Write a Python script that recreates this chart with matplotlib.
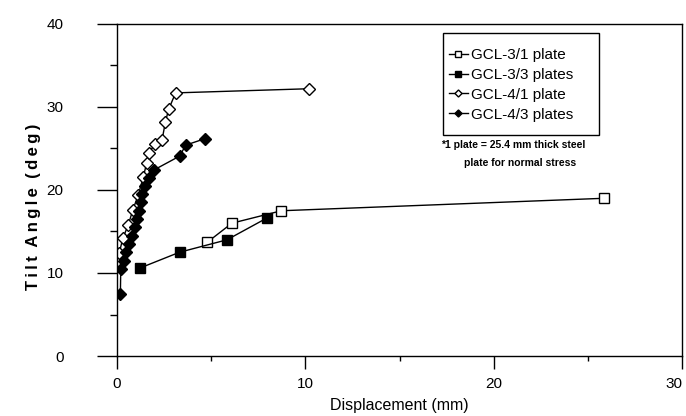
import numpy as np
import matplotlib.pyplot as plt
from matplotlib.patches import Rectangle

plt.rcParams['font.family'] = ['Liberation Sans', 'DejaVu Sans']

# GCL-3, 1 plate (open squares)
x_31 = [4.79, 6.10, 8.73, 25.84]
y_31 = [13.7, 16.0, 17.5, 19.0]
# GCL-3, 3 plates (filled squares)
x_33 = [1.22, 3.32, 5.84, 7.94]
y_33 = [10.6, 12.5, 14.0, 16.6]
# GCL-4, 1 plate (open diamonds)
x_41 = [0.12, 0.31, 0.60, 0.84, 1.13, 1.40, 1.57, 1.71, 2.00, 2.39, 2.57, 2.74, 3.11, 10.18]
y_41 = [12.4, 14.2, 15.8, 17.6, 19.4, 21.6, 23.2, 24.5, 25.5, 26.0, 28.2, 29.7, 31.7, 32.2]
# GCL-4, 3 plates (filled diamonds)
x_43 = [0.18, 0.20, 0.35, 0.50, 0.65, 0.80, 0.95, 1.05, 1.15, 1.25, 1.35, 1.50, 1.70, 1.95, 3.34, 3.64, 4.69]
y_43 = [7.5, 10.5, 11.5, 12.5, 13.5, 14.5, 15.5, 16.5, 17.5, 18.5, 19.5, 20.5, 21.5, 22.4, 24.1, 25.4, 26.2]

labels = ['GCL-3/1 plate', 'GCL-3/3 plates', 'GCL-4/1 plate', 'GCL-4/3 plates']
note = ['*1 plate = 25.4 mm thick steel', 'plate for normal stress']

W, H = 686, 416
fig = plt.figure(figsize=(W/100, H/100), dpi=100)
ax = fig.add_axes([117/W, 1 - 356/H, (682 - 117)/W, (356 - 24)/H])

ax.plot(x_31, y_31, color='black', lw=1, marker='s', ms=7, mfc='white', mec='black', mew=1, label=labels[0])
ax.plot(x_33, y_33, color='black', lw=1, marker='s', ms=7, mfc='black', mec='black', label=labels[1])
ax.plot(x_41, y_41, color='black', lw=1, marker='D', ms=6.5, mfc='white', mec='black', mew=1, label=labels[2])
ax.plot(x_43, y_43, color='black', lw=1, marker='D', ms=6.5, mfc='black', mec='black', label=labels[3])

ax.set_xlim(0, 30)
ax.set_ylim(0, 40)
ax.set_xticks([0, 10, 20, 30])
ax.set_xticks([5, 15, 25], minor=True)
ax.set_yticks([0, 10, 20, 30, 40])
ax.set_yticks([5, 15, 25, 35], minor=True)
ax.tick_params(axis='y', which='major', direction='out', length=14.4, width=1, labelsize=11, pad=24)
ax.tick_params(axis='y', which='minor', direction='out', length=5, width=1)
ax.tick_params(axis='x', which='major', direction='out', length=9, width=1, labelsize=11, pad=6)
ax.tick_params(axis='x', which='minor', direction='out', length=3.6, width=1)
ax.get_xticklabels()[-1].set_horizontalalignment('right')
for s in ax.spines.values():
    s.set_linewidth(1)

ax.set_xlabel('Displacement (mm)', fontsize=11.5, labelpad=5)
ax.set_ylabel('T\u2009i\u2009l\u2009t  A\u2009n\u2009g\u2009l\u2009e  (\u2009d\u2009e\u2009g\u2009)',
              fontsize=12, fontweight='bold')
ax.yaxis.set_label_coords(-(117 - 41)/565, 0.449)

leg = ax.legend(loc='upper left', bbox_to_anchor=(437/W, 1 - 36/H), bbox_transform=fig.transFigure,
                fontsize=11, frameon=False, markerscale=0.55,
                handlelength=1.2, labelspacing=0.38, borderpad=0.3, handletextpad=0.25)

fig.patches.append(Rectangle((443/W, 1 - 135/H), (599 - 443)/W, (135 - 33)/H, transform=fig.transFigure,
                             fill=False, edgecolor='black', lw=1))

fig.text(513/W, 1 - 145/H, note[0], ha='center', va='center', fontsize=7.5, fontweight='bold')
fig.text(520/W, 1 - 163/H, note[1], ha='center', va='center', fontsize=7.5, fontweight='bold')

fig.savefig('out.png', dpi=100)
